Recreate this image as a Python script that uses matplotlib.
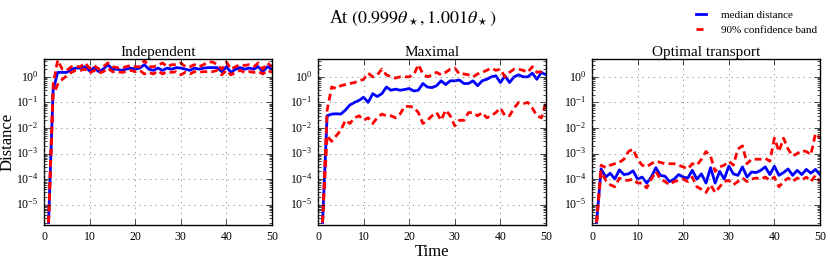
import numpy as np
import matplotlib
matplotlib.use("Agg")
import matplotlib.pyplot as plt

plt.style.use("classic")
plt.rcParams["font.family"] = "serif"
plt.rcParams["font.serif"] = ["Liberation Serif", "DejaVu Serif"]
plt.rcParams["mathtext.fontset"] = "stix"

time = np.arange(1, 51)

# Independent
ind_med = [2e-6, 0.3, 1.5, 1.5, 1.5, 2.0, 2.2, 2.2, 2.5, 1.7, 2.3, 1.6, 2.0, 3.0, 2.0, 2.0, 1.8, 2.0, 2.2, 2.0,
           2.2, 3.0, 2.0, 1.8, 2.2, 1.8, 2.2, 2.0, 2.3, 2.2, 2.0, 1.8, 2.2, 2.0, 2.2, 2.3, 2.3, 2.3, 1.6, 2.5,
           1.5, 2.0, 2.3, 2.0, 2.2, 2.0, 2.5, 1.6, 2.5, 2.0]
ind_hi = [2e-6, 0.5, 4.5, 2.0, 1.8, 2.5, 2.5, 2.5, 3.5, 2.2, 2.8, 2.0, 2.5, 3.5, 2.5, 2.3, 2.2, 2.5, 2.8, 2.5,
          2.5, 4.5, 2.5, 2.5, 2.8, 3.5, 2.5, 3.0, 3.0, 3.5, 2.5, 2.5, 3.0, 2.5, 3.0, 3.8, 3.8, 3.0, 2.0, 3.8,
          2.0, 2.5, 3.0, 2.8, 3.0, 2.5, 3.5, 2.0, 3.5, 2.5]
ind_lo = [2e-6, 0.2, 0.5, 0.8, 1.1, 1.5, 1.8, 1.8, 2.0, 1.4, 1.8, 1.4, 1.6, 2.2, 1.6, 1.6, 1.5, 1.6, 1.8, 1.6,
          1.8, 1.3, 1.5, 1.3, 1.7, 1.3, 1.6, 1.5, 1.6, 1.2, 1.5, 1.3, 1.6, 1.5, 1.6, 1.6, 1.6, 1.8, 1.2, 1.8,
          1.2, 1.5, 1.8, 1.5, 1.6, 1.5, 1.6, 1.3, 1.8, 1.5]

# Maximal
max_med = [2e-6, 0.03, 0.035, 0.036, 0.035, 0.05, 0.08, 0.1, 0.12, 0.16, 0.1, 0.22, 0.17, 0.22, 0.4, 0.3, 0.33,
           0.3, 0.32, 0.35, 0.28, 0.3, 0.55, 0.4, 0.38, 0.45, 0.7, 0.5, 0.7, 0.7, 0.75, 0.55, 0.55, 0.7, 0.45,
           0.7, 0.8, 1.0, 1.1, 0.6, 1.1, 0.6, 1.0, 1.2, 1.0, 1.0, 1.4, 0.8, 1.5, 1.2]
max_hi = [2e-6, 0.05, 0.4, 0.35, 0.45, 0.5, 0.55, 0.6, 0.7, 0.8, 1.4, 1.0, 1.2, 2.0, 1.2, 1.0, 0.9, 1.0, 1.0, 1.0,
          1.2, 3.0, 1.3, 1.0, 1.2, 1.5, 1.2, 1.5, 2.0, 2.2, 1.3, 1.3, 1.2, 1.0, 1.3, 1.5, 1.8, 2.2, 1.8, 2.0,
          1.0, 1.5, 2.0, 2.0, 1.8, 1.5, 2.5, 1.5, 1.6, 2.0]
max_lo = [2e-6, 0.005, 0.003, 0.005, 0.008, 0.02, 0.015, 0.025, 0.03, 0.02, 0.025, 0.015, 0.025, 0.035, 0.03,
          0.03, 0.025, 0.035, 0.07, 0.07, 0.065, 0.04, 0.015, 0.02, 0.03, 0.04, 0.02, 0.05, 0.03, 0.012, 0.02,
          0.02, 0.04, 0.04, 0.03, 0.04, 0.025, 0.03, 0.04, 0.06, 0.03, 0.03, 0.06, 0.1, 0.09, 0.1, 0.06, 0.03,
          0.025, 0.1]

# Optimal transport
ot_med = [2e-6, 2.5e-4, 1.2e-4, 1.7e-4, 1e-4, 2.3e-4, 1.5e-4, 1.6e-4, 2.1e-4, 1e-4, 1.2e-4, 7e-5, 1.2e-4, 2.8e-4,
          1.4e-4, 1.3e-4, 8e-5, 1e-4, 1.5e-4, 1.2e-4, 1.1e-4, 2.2e-4, 1e-4, 1.6e-4, 7e-5, 2.8e-4, 7e-5, 2e-4,
          1e-4, 3.2e-4, 1.6e-4, 1.4e-4, 3e-4, 1.2e-4, 1.9e-4, 1.8e-4, 2.2e-4, 3e-4, 1.5e-4, 3.2e-4, 1.4e-4,
          1.8e-4, 2.5e-4, 1.4e-4, 2.2e-4, 1.5e-4, 2.4e-4, 1.7e-4, 2.4e-4, 1.5e-4]
ot_hi = [2e-6, 3.5e-4, 2.8e-4, 3.5e-4, 4e-4, 4.5e-4, 6e-4, 1.2e-3, 1.5e-3, 6e-4, 3.5e-4, 3e-4, 4e-4, 5e-4, 4.5e-4,
         4e-4, 4e-4, 4e-4, 3.5e-4, 3e-4, 2.5e-4, 4e-4, 3.5e-4, 6e-4, 1.2e-3, 8e-4, 2e-4, 3e-4, 3.5e-4, 5e-4,
         3.5e-4, 1.5e-3, 2e-3, 4e-4, 6e-4, 6e-4, 6e-4, 6.5e-4, 5e-4, 4e-3, 1.2e-3, 4e-3, 1.5e-3, 8e-4, 1e-3,
         1.3e-3, 1.2e-3, 9e-4, 6e-3, 4e-3]
ot_lo = [2e-6, 2e-4, 9e-5, 6e-5, 5e-5, 1.1e-4, 9e-5, 9e-5, 1e-4, 7e-5, 7e-5, 4.5e-5, 1e-4, 2e-4, 1e-4, 8e-5, 6e-5,
         8e-5, 9e-5, 1e-4, 8e-5, 1.2e-4, 5e-5, 4e-5, 3e-5, 6e-5, 3e-5, 5e-5, 8e-5, 9e-5, 6e-5, 8e-5, 1.1e-4,
         8e-5, 1e-4, 1.1e-4, 1e-4, 1.2e-4, 9e-5, 1.2e-4, 5e-5, 8e-5, 1.1e-4, 8e-5, 1.1e-4, 9e-5, 1.2e-4, 8e-5,
         1.4e-4, 8e-5]

titles = ["Independent", "Maximal", "Optimal transport"]
panels = [(ind_med, ind_lo, ind_hi), (max_med, max_lo, max_hi), (ot_med, ot_lo, ot_hi)]

fig = plt.figure(figsize=(8.3, 2.62), dpi=100, facecolor="white")
lefts = [44 / 830, 318 / 830, 592 / 830]
w = 228 / 830
for i, (med, lo, hi) in enumerate(panels):
    ax = fig.add_axes([lefts[i], 37 / 262, w, 166 / 262])
    l1, = ax.plot(time, med, "b-", lw=2)
    l2, = ax.plot(time, lo, "r--", lw=2, dashes=(5, 3))
    ax.plot(time, hi, "r--", lw=2, dashes=(5, 3))
    ax.set_yscale("log")
    ax.set_ylim(1.6e-6, 5)
    ax.set_xlim(0, 50)
    ax.set_yticks([1e-5, 1e-4, 1e-3, 1e-2, 1e-1, 1e0])
    ax.grid(True, color="0.45")
    ax.tick_params(labelsize=8.5)
    ax.set_title(titles[i], fontsize=11, pad=2)
    if i == 0:
        ax.set_ylabel("Distance", fontsize=12)
        ax.yaxis.set_label_coords(-0.125, 0.5)
    if i == 1:
        ax.set_xlabel("Time", fontsize=12, labelpad=1)

fig.text(0.497, 0.93, r"At $(0.999\theta_\star,1.001\theta_\star)$", ha="center", va="center", fontsize=13)
fig.legend([l1, l2], ["median distance", "90% confidence band"], loc="upper left",
           bbox_to_anchor=(693 / 830, 1 - 10 / 262), frameon=False, fontsize=8,
           handlelength=1.5, handletextpad=1.0, borderpad=0, borderaxespad=0, labelspacing=0.45)

plt.savefig("out.png", dpi=100, facecolor="white")
